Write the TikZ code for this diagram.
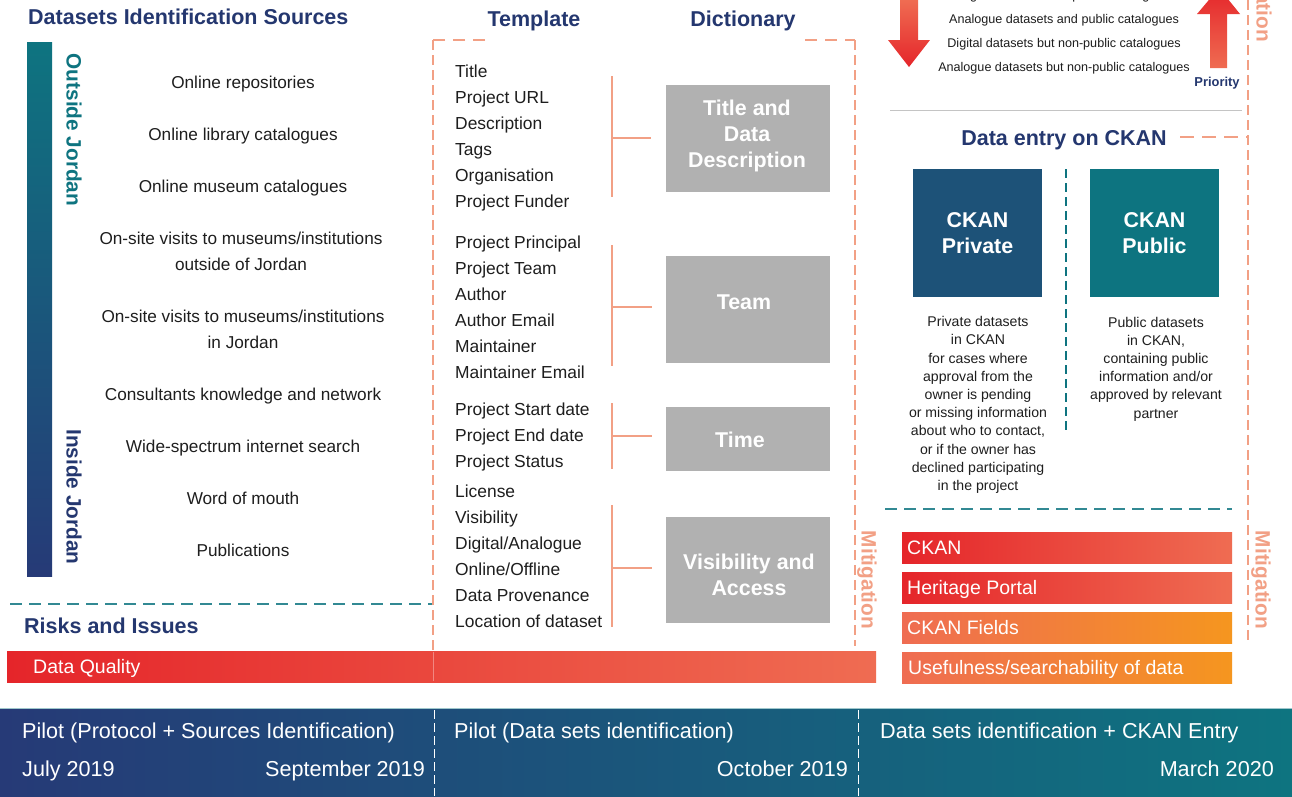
\documentclass[tikz,border=0pt]{standalone}
\usepackage{fontspec}
\setmainfont{Liberation Sans}
\newcommand\setfs[2]{\fontsize{#1pt}{#2pt}\selectfont}
\definecolor{navy}{HTML}{24376F}
\definecolor{tealc}{HTML}{0E7480}
\definecolor{bandnavy}{HTML}{263A77}
\definecolor{salmon}{HTML}{F2A085}
\definecolor{boxgray}{HTML}{B1B1B1}
\definecolor{ckpriv}{HTML}{1D5278}
\definecolor{ckpub}{HTML}{0D7480}
\definecolor{redc}{HTML}{E5252A}
\definecolor{salm2}{HTML}{EF6C52}
\definecolor{orng}{HTML}{F5961F}
\definecolor{txt}{HTML}{1E1E1E}
\definecolor{lgray}{HTML}{C4C4C4}
\tikzset{
 hdr/.style={font=\bfseries\setfs{21.5}{24}, text=navy, inner sep=0pt, text height=15.4pt, text depth=0pt},
 src/.style={font=\setfs{17.2}{26}, text=txt, align=center, inner sep=0pt},
 srcone/.style={src, text height=12.3pt, text depth=0pt},
 tpl/.style={font=\setfs{17.4}{20}, text=txt, anchor=west, inner sep=0pt, text height=12.5pt, text depth=0pt},
 gbox/.style={fill=boxgray, draw=none, inner sep=0pt},
 glab/.style={font=\bfseries\setfs{21.4}{26}, text=white, align=center, inner sep=0pt},
 brk/.style={draw=salmon, line width=1.6pt},
 odash/.style={draw=salmon, line width=2.4pt, dash pattern=on 10pt off 5pt},
 odashh/.style={draw=salmon, line width=2.4pt, dash pattern=on 12pt off 8pt},
 tdash/.style={draw=tealc!85!white, line width=2pt, dash pattern=on 12pt off 7pt},
 tdashv/.style={draw=tealc, line width=1.8pt, dash pattern=on 9pt off 5pt},
 vt/.style={rotate=-90, inner sep=0pt, font=\bfseries\setfs{20.8}{24}, text height=14.9pt, text depth=0pt},
 sm/.style={font=\setfs{12.6}{15}, text=txt, inner sep=0pt, text height=9pt, text depth=0pt},
 desc/.style={font=\setfs{14.1}{18.2}, text=txt, align=center, inner sep=0pt},
 ckbox/.style={inner sep=0pt, minimum width=129pt, minimum height=128pt, text=white, font=\bfseries\setfs{21.4}{26}, align=center},
 bar/.style={inner sep=0pt, draw=none, anchor=north west},
 bartxt/.style={font=\setfs{19.5}{22}, text=white, anchor=west, inner sep=0pt, text height=14pt, text depth=0pt},
 tl/.style={font=\setfs{21.6}{24}, text=white, inner sep=0pt, text height=15.5pt, text depth=0pt},
 wdash/.style={draw=white, line width=0.9pt, dash pattern=on 9pt off 4pt},
}
\begin{document}
\begin{tikzpicture}[x=1pt,y=-1pt]
\useasboundingbox (0,0) rectangle (1292,796);
\clip (0,0) rectangle (1292,796);
\fill[white] (0,0) rectangle (1292,796);

% ---------- left column: sources ----------
\node[hdr, anchor=west] (hsrc) at (28,17) {Datasets Identification Sources};
\shade[top color=tealc, bottom color=bandnavy] (27,42) rectangle (52,576);
\node[vt, text=tealc] (outj) at (74,130) {Outside Jordan};
\node[vt, text=navy] (insj) at (74,497) {Inside Jordan};

\node[srcone] (s1) at (243,82) {Online repositories};
\node[srcone] (s2) at (243,134) {Online library catalogues};
\node[srcone] (s3) at (243,186) {Online museum catalogues};
\node[src] (s4) at (241,251) {On-site visits to museums/institutions\\outside of Jordan};
\node[src] (s5) at (243,329) {On-site visits to museums/institutions\\in Jordan};
\node[srcone] (s6) at (243,394) {Consultants knowledge and network};
\node[srcone] (s7) at (243,446) {Wide-spectrum internet search};
\node[srcone] (s8) at (243,498) {Word of mouth};
\node[srcone] (s9) at (243,550) {Publications};

\coordinate (tl1) at (10,604);
\coordinate (tl2) at (432,604);
\draw[tdash] (tl1) -- (tl2);
\node[hdr, anchor=west] (hrisk) at (24,626) {Risks and Issues};

% ---------- Data Quality bar ----------
\node[bar, left color=redc, right color=salm2, minimum width=869pt, minimum height=31pt] (dq) at (7,651) {};
\node[bartxt] (dqt) at ([xshift=26pt]dq.west) {Data Quality};

% ---------- template / dictionary ----------
\node[hdr] (htpl) at (534,19) {Template};
\node[hdr] (hdic) at (743,19) {Dictionary};
\coordinate (o1) at (433,40);
\coordinate (o2) at (485,40);
\coordinate (o3) at (433,650);
\coordinate (o4) at (805,40);
\coordinate (o5) at (855,40);
\coordinate (o6) at (855,646);
\draw[odashh] (o2) -- (o1);
\draw[odash] (o1) -- (o3);
\draw[odashh] (o4) -- (o5);
\draw[odash] (o5) -- (o6);
\draw[white, opacity=0.35, line width=1pt] (433,652) -- (433,681);

\node[tpl] (t1) at (455,71) {Title};
\node[tpl] (t2) at (455,97) {Project URL};
\node[tpl] (t3) at (455,123) {Description};
\node[tpl] (t4) at (455,149) {Tags};
\node[tpl] (t5) at (455,175) {Organisation};
\node[tpl] (t6) at (455,201) {Project Funder};
\node[tpl] (t7) at (455,242) {Project Principal};
\node[tpl] (t8) at (455,268) {Project Team};
\node[tpl] (t9) at (455,294) {Author};
\node[tpl] (t10) at (455,320) {Author Email};
\node[tpl] (t11) at (455,346) {Maintainer};
\node[tpl] (t12) at (455,372) {Maintainer Email};
\node[tpl] (t13) at (455,409) {Project Start date};
\node[tpl] (t14) at (455,435) {Project End date};
\node[tpl] (t15) at (455,461) {Project Status};
\node[tpl] (t16) at (455,491) {License};
\node[tpl] (t17) at (455,517) {Visibility};
\node[tpl] (t18) at (455,543) {Digital/Analogue};
\node[tpl] (t19) at (455,569) {Online/Offline};
\node[tpl] (t20) at (455,595) {Data Provenance};
\node[tpl] (t21) at (455,621) {Location of dataset};

\node[gbox, minimum width=164pt, minimum height=107pt] (g1) at (747.5,138.5) {};
\node[gbox, minimum width=164pt, minimum height=107pt] (g2) at (748,309.5) {};
\node[gbox, minimum width=164pt, minimum height=64pt] (g3) at (748,439) {};
\node[gbox, minimum width=164pt, minimum height=106pt] (g4) at (748,570) {};
\node[glab] (gl1) at (747,136) {Title and\\Data\\Description};
\node[glab, text height=15.3pt, text depth=0pt] (gl2) at (744,302) {Team};
\node[glab, text height=15.3pt, text depth=0pt] (gl3) at (740,440) {Time};
\node[glab] (gl4) at (749,575) {Visibility and\\Access};

\coordinate (b1t) at (612,76);  \coordinate (b1b) at (612,197); \coordinate (b1m) at (612,138);
\coordinate (b2t) at (612,245); \coordinate (b2b) at (612,366); \coordinate (b2m) at (612,307);
\coordinate (b3t) at (612,403); \coordinate (b3b) at (612,469); \coordinate (b3m) at (612,436);
\coordinate (b4t) at (612,505); \coordinate (b4b) at (612,627); \coordinate (b4m) at (612,568);
\draw[brk] (b1t) -- (b1b);
\draw[brk, shorten >=14pt] (b1m) -- (b1m -| g1.west);
\draw[brk] (b2t) -- (b2b);
\draw[brk, shorten >=14pt] (b2m) -- (b2m -| g2.west);
\draw[brk] (b3t) -- (b3b);
\draw[brk, shorten >=14pt] (b3m) -- (b3m -| g3.west);
\draw[brk] (b4t) -- (b4b);
\draw[brk, shorten >=14pt] (b4m) -- (b4m -| g4.west);

\node[vt, text=salmon] (mit1) at (869,580) {Mitigation};

% ---------- right column: priority ----------
\shade[top color=salm2, bottom color=redc] (900,0) -- (918,0) -- (918,40) -- (930,40) -- (909,67) -- (888,40) -- (900,40) -- cycle;
\shade[top color=redc, bottom color=salm2] (1219,-12) -- (1240,14) -- (1227,14) -- (1227,68) -- (1210,68) -- (1210,14) -- (1197,14) -- cycle;
\node[sm] (p0) at (1064,-5) {Digital datasets and public catalogues};
\node[sm] (p1) at (1064,19) {Analogue datasets and public catalogues};
\node[sm] (p2) at (1064,43) {Digital datasets but non-public catalogues};
\node[sm] (p3) at (1064,67) {Analogue datasets but non-public catalogues};
\node[font=\bfseries\setfs{12.9}{15}, text=navy, inner sep=0pt, text height=9.3pt, text depth=0pt] (prio) at (1217,82) {Priority};
\node[vt, text=salmon] (mit0) at (1264,-7) {Mitigation};

\coordinate (gl_a) at (890,110);
\coordinate (gl_b) at (1242,110);
\draw[lgray, line width=1pt] (gl_a) -- (gl_b);

\coordinate (r1) at (1248,0);
\coordinate (r2) at (1248,642);
\draw[odash] (r1) -- (r2);
\node[hdr] (hckan) at (1064,138) {Data entry on CKAN};
\coordinate (r3) at (1180,137);
\draw[odashh, dash pattern=on 14pt off 8pt] (r3) -- (r3 -| r1);

\node[ckbox, fill=ckpriv] (ckpv) at (977.5,233) {CKAN\\Private};
\node[ckbox, fill=ckpub] (ckpb) at (1154.5,233) {CKAN\\Public};
\coordinate (tv1) at (1066,169);
\coordinate (tv2) at (1066,433);
\draw[tdashv] (tv1) -- (tv2);

\node[desc] (dpv) at (978,405) {Private datasets\\in CKAN\\for cases where\\approval from the\\owner is pending\\or missing information\\about who to contact,\\or if the owner has\\declined participating\\in the project};
\node[desc] (dpb) at (1156,369) {Public datasets\\in CKAN,\\containing public\\information and/or\\approved by relevant\\partner};

\coordinate (th1) at (885,509);
\coordinate (th2) at (1232,509);
\draw[tdash] (th1) -- (th2);

% ---------- mitigation bars ----------
\node[bar, left color=redc, right color=salm2, minimum width=330pt, minimum height=31pt] (mb1) at (902,532) {};
\node[bar, left color=redc, right color=salm2, minimum width=330pt, minimum height=31pt] (mb2) at (902,572) {};
\node[bar, left color=salm2, right color=orng, minimum width=330pt, minimum height=31pt] (mb3) at (902,612) {};
\node[bar, left color=salm2, right color=orng, minimum width=330pt, minimum height=31pt] (mb4) at (902,652) {};
\node[bartxt] (mt1) at ([xshift=5pt]mb1.west) {CKAN};
\node[bartxt] (mt2) at ([xshift=5pt]mb2.west) {Heritage Portal};
\node[bartxt] (mt3) at ([xshift=5pt]mb3.west) {CKAN Fields};
\node[bartxt] (mt4) at ([xshift=6pt]mb4.west) {Usefulness/searchability of data};
\node[vt, text=salmon] (mit2) at (1263,580) {Mitigation};

% ---------- timeline ----------
\shade[left color=bandnavy, right color=tealc] (0,708) rectangle (1292,796);
\draw[tealc!40!white, line width=1pt] (0,708.5) -- (1292,708.5);
\coordinate (w1) at (434,710);
\coordinate (w2) at (434,796);
\coordinate (w3) at (858,710);
\coordinate (w4) at (858,796);
\draw[wdash] (w1) -- (w2);
\draw[wdash] (w3) -- (w4);
\node[tl, anchor=west] (tp1) at (22,731) {Pilot (Protocol + Sources Identification)};
\node[tl, anchor=west] (td1) at (22,769) {July 2019};
\node[tl, anchor=east] (td2) at (425,769) {September 2019};
\node[tl, anchor=west] (tp2) at (454,731) {Pilot (Data sets identification)};
\node[tl, anchor=east] (td3) at (848,769) {October 2019};
\node[tl, anchor=west] (tp3) at (880,731) {Data sets identification + CKAN Entry};
\node[tl, anchor=east] (td4) at (1274,769) {March 2020};
\end{tikzpicture}
\end{document}
